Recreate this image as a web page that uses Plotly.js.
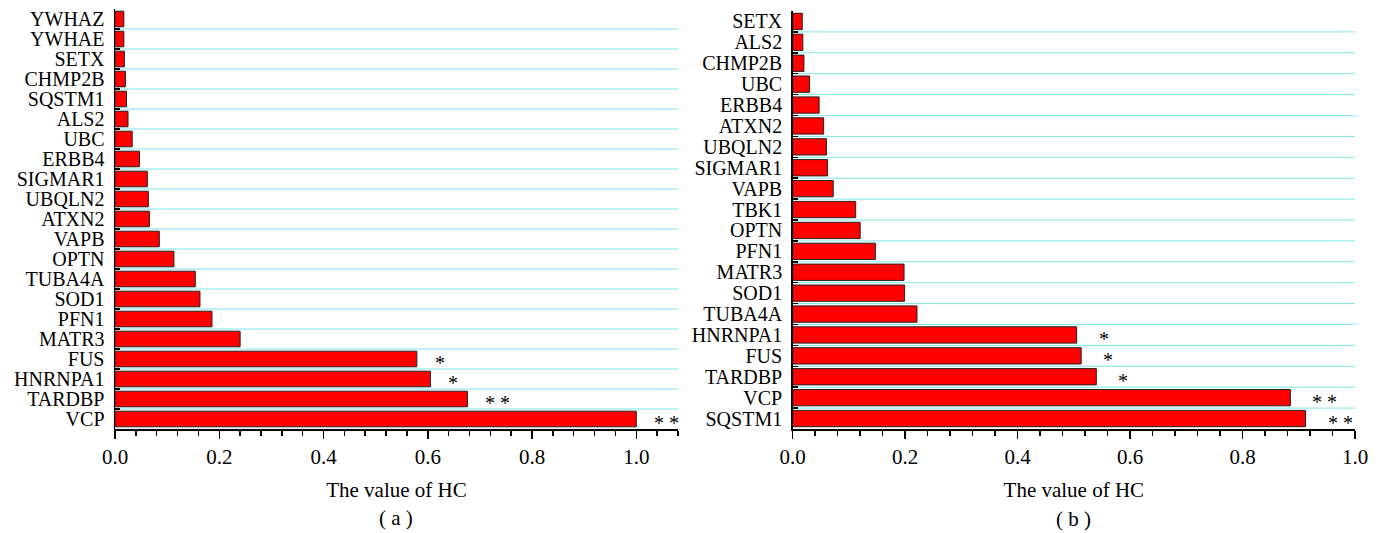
<!DOCTYPE html>
<html>
<head>
<meta charset="utf-8">
<script src="https://cdn.plot.ly/plotly-3.0.1.min.js"></script>
<style>html,body{margin:0;padding:0;background:#fff;}#chart{width:1383px;height:533px;}</style>
</head>
<body>
<div id="chart"></div>
<script>
// Panel (a): categories top to bottom
var catsA = ['YWHAZ','YWHAE','SETX','CHMP2B','SQSTM1','ALS2','UBC','ERBB4','SIGMAR1','UBQLN2','ATXN2','VAPB','OPTN','TUBA4A','SOD1','PFN1','MATR3','FUS','HNRNPA1','TARDBP','VCP'];
var valsA = [0.017,0.017,0.018,0.020,0.022,0.025,0.033,0.047,0.062,0.064,0.066,0.085,0.113,0.154,0.163,0.186,0.240,0.579,0.605,0.676,1.0];
var starsA = ['','','','','','','','','','','','','','','','','','*','*','* *','* *'];

// Panel (b): categories top to bottom
var catsB = ['SETX','ALS2','CHMP2B','UBC','ERBB4','ATXN2','UBQLN2','SIGMAR1','VAPB','TBK1','OPTN','PFN1','MATR3','SOD1','TUBA4A','HNRNPA1','FUS','TARDBP','VCP','SQSTM1'];
var valsB = [0.017,0.018,0.020,0.030,0.047,0.055,0.060,0.062,0.072,0.112,0.120,0.147,0.198,0.199,0.221,0.505,0.513,0.540,0.885,0.912];
var starsB = ['','','','','','','','','','','','','','','','*','*','*','* *','* *'];

var ticksA = [0,0.2,0.4,0.6,0.8,1.0];
var ticksB = [0,0.2,0.4,0.6,0.8,1.0];
var tickTextA = ['0.0','0.2','0.4','0.6','0.8','1.0'];
var tickTextB = ['0.0','0.2','0.4','0.6','0.8','1.0'];
var xTitle = 'The value of HC';
var panelA = '( a )';
var panelB = '( b )';

var FONT = 'Liberation Serif, Times New Roman, serif';
var W = 1383, H = 533;
var GRID = '#7fe6e6';

var barStyle = {color:'#ff0000', line:{color:'#222222', width:1}};

var traces = [
  {type:'bar', orientation:'h', x:valsA, y:catsA, xaxis:'x', yaxis:'y', marker:barStyle, width:0.78, hoverinfo:'x+y'},
  {type:'bar', orientation:'h', x:valsB, y:catsB, xaxis:'x2', yaxis:'y2', marker:barStyle, width:0.78, hoverinfo:'x+y'}
];

function xax(domain, range, tv, tt){
  return {
    domain: domain, range: range, tickmode:'array', tickvals: tv, ticktext: tt,
    showgrid:false, zeroline:false, showline:true, linecolor:'#000', linewidth:1.5,
    ticks:'outside', ticklen:8, tickwidth:1.5, tickcolor:'#000',
    minor:{dtick:0.04, tick0:0, ticks:'outside', ticklen:5, tickwidth:1.5, tickcolor:'#000', showgrid:false},
    tickfont:{family:FONT, size:21, color:'#000'},
    title:{text:xTitle, font:{family:FONT, size:21, color:'#000'}, standoff:14},
    fixedrange:true
  };
}
function yax(domain, n, anchor){
  return {
    domain: domain, type:'category', range:[n-0.5, -0.5], anchor:anchor,
    tickmode:'linear', tick0:0, dtick:1,
    tickson:'boundaries', ticks:'inside', ticklen:5, tickwidth:1.5, tickcolor:'#000',
    showgrid:false,
    showline:true, linecolor:'#000', linewidth:1.5, zeroline:false,
    tickfont:{family:FONT, size:20, color:'#000'},
    ticklabelstandoff:5,
    fixedrange:true
  };
}

var domXA = [115/W, 678/W];
var domXB = [792.7/W, 1355/W];
var domYA = [(H-429)/H, (H-9)/H];
var domYB = [(H-429)/H, (H-11)/H];

// category boundary grid lines (between neighbouring categories)
var shapes = [];
function addGrid(n, xref, yref){
  for (var i=0;i<n-1;i++){
    shapes.push({type:'line', xref:xref+' domain', yref:yref, x0:0, x1:1, y0:i+0.5, y1:i+0.5,
      line:{color:GRID, width:1}, layer:'below'});
  }
}
addGrid(catsA.length, 'x', 'y');
addGrid(catsB.length, 'x2', 'y2');

var annotations = [];
function addStars(cats, vals, stars, xref, yref, shift){
  for (var i=0;i<cats.length;i++){
    if (!stars[i]) continue;
    annotations.push({x:vals[i], y:cats[i], xref:xref, yref:yref, text:stars[i], showarrow:false,
      xanchor:'left', yanchor:'middle', xshift:shift, yshift:-4,
      font:{family:FONT, size:20, color:'#000'}});
  }
}
addStars(catsA, valsA, starsA, 'x', 'y', 16);
addStars(catsB, valsB, starsB, 'x2', 'y2', 20);

annotations.push({x:(domXA[0]+domXA[1])/2, y:(H-518)/H, xref:'paper', yref:'paper', text:panelA, showarrow:false,
  xanchor:'center', yanchor:'middle', font:{family:FONT, size:21, color:'#000'}});
annotations.push({x:(domXB[0]+domXB[1])/2, y:(H-519)/H, xref:'paper', yref:'paper', text:panelB, showarrow:false,
  xanchor:'center', yanchor:'middle', font:{family:FONT, size:21, color:'#000'}});

var layout = {
  width:W, height:H, margin:{l:0,r:0,t:0,b:0}, showlegend:false,
  paper_bgcolor:'#fff', plot_bgcolor:'#fff',
  bargap:0.22,
  xaxis: Object.assign(xax(domXA, [0,1.08], ticksA, tickTextA), {anchor:'y'}),
  yaxis: yax(domYA, catsA.length, 'x'),
  xaxis2: Object.assign(xax(domXB, [0,1.0], ticksB, tickTextB), {anchor:'y2'}),
  yaxis2: yax(domYB, catsB.length, 'x2'),
  shapes: shapes,
  annotations: annotations
};

Plotly.newPlot('chart', traces, layout, {displayModeBar:false, staticPlot:true});
</script>
</body>
</html>
